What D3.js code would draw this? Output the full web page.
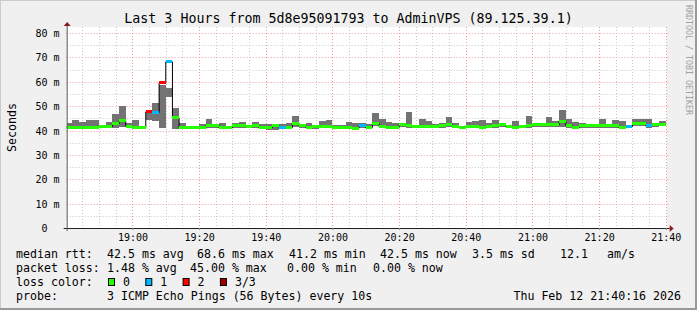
<!DOCTYPE html>
<html>
<head>
<meta charset="utf-8">
<script src="https://cdn.jsdelivr.net/npm/d3@7"></script>
<style>
  body { margin: 0; background: #f0f0f0; }
  svg { display: block; }
  text { font-family: "DejaVu Sans Mono", monospace; fill: #000; }
</style>
</head>
<body>
<div id="chart"></div>
<script>
// 2-minute bins, 18:40:16 .. 21:40:00 (milliseconds)
const median = [
  41.2, 41.4, 41.4, 41.4, 41.4, 41.6, 41.7, 42.7, 44.0, 41.7,
  41.4, 41.1, 47.7, 47.3, 59.6, 68.2, 45.2, 41.2, 41.2, 41.2,
  41.2, 42.0, 42.0, 41.2, 41.2, 41.9, 41.9, 41.6, 41.9, 41.2,
  41.2, 41.9, 41.2, 41.2, 42.8, 41.9, 41.2, 41.6, 41.6, 41.6,
  41.2, 41.2, 41.2, 41.0, 41.9, 41.2, 42.8, 41.6, 41.2, 41.2,
  42.3, 41.9, 41.6, 41.6, 41.6, 41.6, 41.9, 42.3, 41.6, 41.2,
  41.6, 41.6, 41.2, 41.6, 42.0, 42.3, 41.6, 41.2, 41.6, 41.9,
  42.3, 42.3, 42.3, 42.3, 43.9, 42.0, 41.2, 41.9, 41.9, 41.9,
  41.9, 41.9, 41.9, 41.2, 41.6, 42.7, 42.7, 41.9, 42.3, 42.5
];
const smokeHi = [
  43.2, 44.3, 43.5, 44.3, 44.3, 42.3, 43.5, 46.8, 50.1, 43.0,
  44.3, 41.8, 47.2, 51.4, 58.7, 57.6, 49.3, 43.1, 42.0, 42.0,
  42.7, 44.7, 42.7, 43.1, 42.0, 43.1, 43.4, 42.3, 43.5, 42.7,
  42.7, 42.0, 42.7, 43.1, 46.0, 42.7, 43.1, 42.0, 43.9, 44.3,
  42.3, 42.3, 43.5, 43.1, 43.0, 42.7, 47.3, 44.7, 43.5, 43.1,
  42.7, 47.6, 42.0, 44.7, 43.9, 42.7, 43.1, 45.5, 43.1, 41.9,
  43.5, 43.9, 44.3, 43.1, 44.3, 42.7, 41.9, 43.9, 42.3, 46.0,
  42.7, 43.1, 45.5, 43.9, 48.4, 44.7, 43.5, 43.1, 42.7, 42.7,
  44.7, 42.7, 44.3, 43.9, 41.6, 44.7, 44.7, 44.7, 42.7, 43.9
];
const smokeLo = [
  40.5, 40.7, 40.7, 40.7, 40.7, 41.0, 41.0, 41.2, 41.6, 41.0,
  40.5, 40.6, 44.3, 44.0, 41.2, 53.9, 40.8, 40.5, 40.7, 40.7,
  40.7, 41.2, 41.2, 40.7, 40.7, 41.2, 41.2, 41.0, 41.2, 40.7,
  40.2, 40.2, 40.7, 40.7, 41.6, 41.2, 40.7, 40.5, 40.9, 40.9,
  40.7, 40.7, 40.7, 40.5, 41.2, 40.7, 42.0, 40.9, 40.7, 40.7,
  41.6, 41.2, 40.9, 40.9, 40.9, 40.9, 41.2, 41.6, 40.9, 40.5,
  40.9, 40.9, 40.5, 40.9, 41.2, 41.6, 40.9, 40.7, 40.9, 41.2,
  41.6, 41.6, 41.6, 41.6, 41.6, 41.2, 40.7, 41.2, 41.2, 41.2,
  41.2, 41.2, 41.2, 40.7, 41.0, 42.0, 42.0, 41.2, 41.6, 41.8
];
// lost pings out of 3
const lossCount = [
  0, 0, 0, 0, 0, 0, 0, 0, 0, 0,
  0, 0, 2, 1, 2, 1, 0, 0, 0, 0,
  0, 0, 0, 0, 0, 0, 0, 0, 0, 0,
  0, 0, 1, 0, 0, 0, 0, 0, 0, 0,
  0, 0, 0, 0, 1, 0, 0, 0, 0, 0,
  0, 0, 0, 0, 0, 0, 0, 0, 0, 0,
  0, 0, 0, 0, 0, 0, 0, 0, 0, 0,
  0, 0, 0, 0, 0, 0, 0, 0, 0, 0,
  0, 0, 0, 0, 1, 0, 0, 1, 0, 0
];

const yTicks = [0, 10, 20, 30, 40, 50, 60, 70, 80];
const yMinorTicks = [5, 15, 25, 35, 45, 55, 65, 75];
const lossColors = ["#26ff00", "#00b8ff", "#ff0000", "#a10000"];
const lossLabels = ["0", "1", "2", "3/3"];

const title = "Last 3 Hours from 5d8e95091793 to AdminVPS (89.125.39.1)";
const rttLine = ["median rtt:", "42.5 ms avg", "68.6 ms max", "41.2 ms min", "42.5 ms now", "3.5 ms sd", "12.1", "am/s"];
const lossLine = ["packet loss:", "1.48 % avg", "45.00 % max", "0.00 % min", "0.00 % now"];
const probeLine = ["probe:", "3 ICMP Echo Pings (56 Bytes) every 10s"];
const stamp = "Thu Feb 12 21:40:16 2026";

// layout
const W = 697, H = 310;
const plot = { left: 66.67, right: 666.67, top: 27, bottom: 228 };
const rttX = [16, 107, 197, 289, 380, 472, 560, 607];
const lossX = [16, 107, 190, 287, 373];
const rowY = [258, 272, 286, 299.5];

const startTime = new Date(2026, 1, 12, 18, 40, 16);
const endTime = new Date(2026, 1, 12, 21, 40, 16);

const x = d3.scaleTime().domain([startTime, endTime]).range([plot.left, plot.right]);
const y = d3.scaleLinear().domain([0, 82.5]).range([plot.bottom, plot.top]);

const bins = median.map((m, i) => ({
  t0: i === 0 ? startTime : new Date(2026, 1, 12, 18, 40 + 2 * i),
  t1: new Date(2026, 1, 12, 18, 42 + 2 * i),
  med: m, hi: smokeHi[i], lo: smokeLo[i], loss: lossCount[i]
}));

const svg = d3.select("#chart").append("svg").attr("width", W).attr("height", H);

// background and shaded frame
svg.append("rect").attr("width", W).attr("height", H).attr("fill", "#f0f0f0");
svg.append("path").attr("d", `M0,${H} V0 H${W}`).attr("stroke", "#cbcbcb").attr("stroke-width", 2).attr("fill", "none");
svg.append("path").attr("d", `M${W - 1},0 V${H - 1} H0`).attr("stroke", "#999").attr("stroke-width", 2).attr("fill", "none");

svg.append("rect")
  .attr("x", plot.left).attr("y", plot.top)
  .attr("width", plot.right - plot.left).attr("height", plot.bottom - plot.top)
  .attr("fill", "#fff");

// grid
const minorT = d3.timeMinute.every(5).range(startTime, endTime).filter(d => d.getMinutes() % 20 !== 0);
const majorT = d3.timeMinute.every(20).range(startTime, endTime);
const grid = svg.append("g").attr("fill", "none").attr("stroke-dasharray", "1,2");

grid.selectAll(".vmin").data(minorT).join("line")
  .attr("x1", d => Math.round(x(d)) + 0.5).attr("x2", d => Math.round(x(d)) + 0.5)
  .attr("y1", plot.top).attr("y2", plot.bottom)
  .attr("stroke", "#c8c8c8");
grid.selectAll(".hmin").data(yMinorTicks).join("line")
  .attr("x1", plot.left).attr("x2", plot.right + 2)
  .attr("y1", d => Math.round(y(d)) + 0.5).attr("y2", d => Math.round(y(d)) + 0.5)
  .attr("stroke", "#c8c8c8");
grid.selectAll(".vmaj").data(majorT).join("line")
  .attr("x1", d => Math.round(x(d)) + 0.5).attr("x2", d => Math.round(x(d)) + 0.5)
  .attr("y1", plot.top).attr("y2", plot.bottom)
  .attr("stroke", "#f09a9a");
grid.selectAll(".hmaj").data(yTicks.filter(d => d > 0)).join("line")
  .attr("x1", plot.left).attr("x2", plot.right + 2)
  .attr("y1", d => Math.round(y(d)) + 0.5).attr("y2", d => Math.round(y(d)) + 0.5)
  .attr("stroke", "#f09a9a");

// smoke
svg.append("g").selectAll("rect").data(bins).join("rect")
  .attr("x", d => x(d.t0)).attr("width", d => x(d.t1) - x(d.t0))
  .attr("y", d => y(d.hi)).attr("height", d => y(d.lo) - y(d.hi))
  .attr("fill", "#737373")
  .attr("shape-rendering", "crispEdges");

// median step line
const stepLine = d3.line().x(d => d[0]).y(d => d[1]);
const pts = [];
bins.forEach(d => { pts.push([x(d.t0), y(d.med)]); pts.push([x(d.t1), y(d.med)]); });
svg.append("path").attr("d", stepLine(pts))
  .attr("fill", "none").attr("stroke", "#000").attr("stroke-width", 1);

// loss coloured medians
svg.append("g").selectAll("line").data(bins).join("line")
  .attr("x1", d => x(d.t0)).attr("x2", d => x(d.t1))
  .attr("y1", d => y(d.med)).attr("y2", d => y(d.med))
  .attr("stroke", d => lossColors[d.loss]).attr("stroke-width", 3)
  .attr("shape-rendering", "crispEdges");

// axes
const axisG = svg.append("g");
axisG.append("line").attr("x1", plot.left - 3).attr("x2", plot.right + 3)
  .attr("y1", plot.bottom + 0.5).attr("y2", plot.bottom + 0.5).attr("stroke", "#1f1f1f");
axisG.append("line").attr("x1", plot.left + 0.5).attr("x2", plot.left + 0.5)
  .attr("y1", plot.bottom + 3).attr("y2", plot.top - 2).attr("stroke", "#555");
axisG.append("path").attr("d", `M${plot.right + 3},${plot.bottom - 3} L${plot.right + 7},${plot.bottom + 0.5} L${plot.right + 3},${plot.bottom + 4} Z`)
  .attr("fill", "#8b1a1a");
axisG.append("path").attr("d", `M${plot.left - 3},${plot.top - 1} L${plot.left + 0.5},${plot.top - 5} L${plot.left + 4},${plot.top - 1} Z`)
  .attr("fill", "#8b1a1a");

// x tick labels via d3 axis
const xAxis = d3.axisBottom(x).tickValues(majorT).tickFormat(d3.timeFormat("%H:%M")).tickSize(2).tickPadding(4);
const xg = svg.append("g").attr("transform", `translate(0,${plot.bottom})`).call(xAxis);
xg.select(".domain").remove();
xg.selectAll("line").attr("stroke", "#888");
xg.selectAll("text").attr("font-family", "DejaVu Sans Mono").attr("font-size", 10).attr("fill", "#000");

// y tick labels
const yl = svg.append("g").attr("font-size", 10);
yl.selectAll(".num").data(yTicks).join("text")
  .attr("x", 47.5).attr("y", d => y(d) + 0.5).attr("dy", "0.35em")
  .attr("text-anchor", "end").text(d => d);
yl.selectAll(".unit").data(yTicks.filter(d => d > 0)).join("text")
  .attr("x", 53.5).attr("y", d => y(d) + 0.5).attr("dy", "0.35em")
  .text("m");

// titles
svg.append("text").attr("x", W / 2).attr("y", 23).attr("text-anchor", "middle")
  .attr("font-size", 13.3).text(title);
svg.append("text").attr("transform", `translate(15.5,${(plot.top + plot.bottom) / 2}) rotate(-90)`)
  .attr("text-anchor", "middle").attr("font-size", 11.6).text("Seconds");
svg.append("text").attr("transform", "translate(685.5,60) rotate(90)")
  .attr("text-anchor", "middle").attr("font-size", 8.3).style("fill", "#a0a0a0")
  .text("RRDTOOL / TOBI OETIKER");

// legend
const leg = svg.append("g").attr("font-size", 11.6);
leg.selectAll(".rtt").data(rttLine).join("text")
  .attr("x", (d, i) => rttX[i]).attr("y", rowY[0]).text(d => d);
leg.selectAll(".loss").data(lossLine).join("text")
  .attr("x", (d, i) => lossX[i]).attr("y", rowY[1]).text(d => d);
leg.append("text").attr("x", 16).attr("y", rowY[2]).text("loss color:");
const sw = leg.selectAll(".sw").data(lossLabels).join("g")
  .attr("transform", (d, i) => `translate(${108 + i * 37.3},0)`);
sw.append("rect").attr("x", 0.5).attr("y", rowY[2] - 7.5).attr("width", 6).attr("height", 7)
  .attr("fill", (d, i) => lossColors[i]).attr("stroke", "#000");
sw.append("text").attr("x", 15).attr("y", rowY[2]).text(d => d);
leg.selectAll(".probe").data(probeLine).join("text")
  .attr("x", (d, i) => [16, 107][i]).attr("y", rowY[3]).text(d => d);
leg.append("text").attr("x", 681).attr("y", rowY[3]).attr("text-anchor", "end").text(stamp);
</script>
</body>
</html>
